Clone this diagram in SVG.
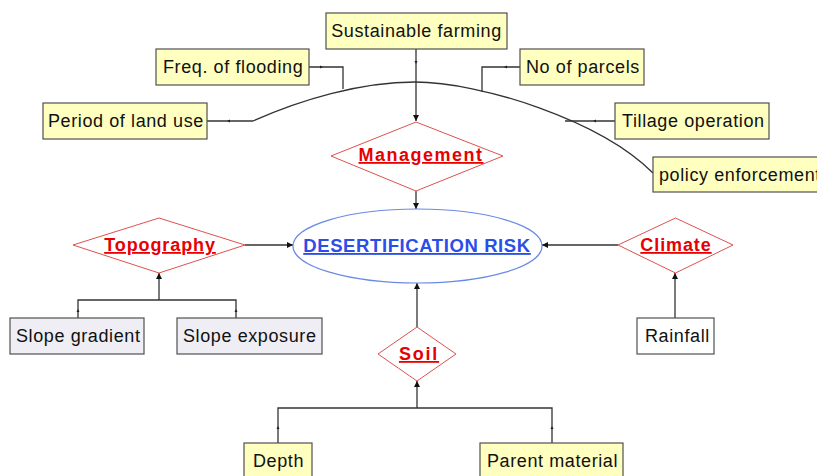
<svg xmlns="http://www.w3.org/2000/svg" width="817" height="476" viewBox="0 0 817 476">
  <style>
    .box { fill: #ffffc0; stroke: #505050; stroke-width: 1.2; }
    .gbox { fill: #eeeef4; stroke: #505050; stroke-width: 1.2; }
    .wbox { fill: #ffffff; stroke: #505050; stroke-width: 1.2; }
    .lbl { font-family: "Liberation Sans", Arial, sans-serif; font-size: 18px; letter-spacing: 0.6px; fill: #111; }
    .dia { fill: #ffffff; stroke: #e05050; stroke-width: 1; }
    .dlbl { font-family: "Liberation Sans", Arial, sans-serif; font-size: 18px; font-weight: bold; letter-spacing: 0.9px; fill: #e80000; text-decoration: underline; text-anchor: middle; }
    .ln { fill: none; stroke: #333; stroke-width: 1.3; }
    .arr { fill: none; stroke: #333; stroke-width: 1.3; marker-end: url(#ah); }
    .tick { fill: #222; }
  </style>
  <defs>
    <marker id="ah" viewBox="0 0 10 10" refX="10" refY="5" markerWidth="6" markerHeight="6" markerUnits="userSpaceOnUse" orient="auto">
      <path d="M0,0 L10,5 L0,10 Z" fill="#111"/>
    </marker>
  </defs>

  <!-- connectors -->
  <g id="connectors">
    <!-- management influences arc -->
    <path class="ln" d="M253,121 C300,100 360,82 415,82 C480,82 600,120 653,173"/>
    <path class="ln" d="M207,121 H253"/>
    <path class="ln" d="M309,67 H343 V89"/>
    <path class="ln" d="M520,67 H482 V92"/>
    <path class="ln" d="M615,121 H565"/>
    <path class="arr" d="M416,49 V121"/>
    <!-- small direction ticks -->
    <path class="tick" d="M227,121 l3,-1.5 v3 Z"/>
    <path class="tick" d="M323,67 l-3,-1.5 v3 Z"/>
    <path class="tick" d="M416,64 l-1.5,-3 h3 Z"/>
    <path class="tick" d="M504,67 l3,-1.5 v3 Z"/>
    <path class="tick" d="M593,121 l3,-1.5 v3 Z"/>
    <!-- into the central risk -->
    <path class="arr" d="M416,191 V209"/>
    <path class="arr" d="M245,245 H293"/>
    <path class="arr" d="M618,245 H542"/>
    <path class="arr" d="M417,327 V283"/>
    <!-- topography inputs -->
    <path class="ln" d="M78,318 V300 H236 V318"/>
    <path class="arr" d="M159,300 V273"/>
    <path class="tick" d="M78,309 l-1.5,3 h3 Z"/>
    <path class="tick" d="M236,309 l-1.5,3 h3 Z"/>
    <!-- climate input -->
    <path class="arr" d="M675,318 V273"/>
    <!-- soil inputs -->
    <path class="ln" d="M278,443 V408 H552 V443"/>
    <path class="arr" d="M417,408 V381"/>
    <path class="tick" d="M278,426 l-1.5,3 h3 Z"/>
    <path class="tick" d="M552,426 l-1.5,3 h3 Z"/>
  </g>

  <!-- management factors -->
  <g id="sustainable-farming">
    <rect class="box" x="326" y="13" width="181" height="36"/>
    <text class="lbl" x="416.5" y="37" text-anchor="middle">Sustainable farming</text>
  </g>
  <g id="freq-flooding">
    <rect class="box" x="156" y="49" width="153" height="36"/>
    <text class="lbl" x="163" y="73">Freq. of flooding</text>
  </g>
  <g id="no-parcels">
    <rect class="box" x="520" y="49" width="124" height="36"/>
    <text class="lbl" x="526" y="73">No of parcels</text>
  </g>
  <g id="period-land-use">
    <rect class="box" x="43" y="103" width="164" height="36"/>
    <text class="lbl" x="48" y="127">Period of land use</text>
  </g>
  <g id="tillage">
    <rect class="box" x="615" y="103" width="154" height="36"/>
    <text class="lbl" x="622" y="127">Tillage operation</text>
  </g>
  <g id="policy">
    <rect class="box" x="653" y="157" width="180" height="35"/>
    <text class="lbl" x="659" y="181">policy enforcement</text>
  </g>

  <!-- factor groups -->
  <g id="management">
    <polygon class="dia" points="416,122 503,156 416,191 331,156"/>
    <text class="dlbl" x="421" y="161" style="letter-spacing:1.5px">Management</text>
  </g>
  <g id="topography">
    <polygon class="dia" points="159,218 245,245 159,273 73,245"/>
    <text class="dlbl" x="160" y="251">Topography</text>
  </g>
  <g id="climate">
    <polygon class="dia" points="675.5,218 733,245 675.5,273 618,245"/>
    <text class="dlbl" x="676" y="251">Climate</text>
  </g>
  <g id="soil">
    <polygon class="dia" points="417,327 456,354 417,381 378,354"/>
    <text class="dlbl" x="419" y="360" style="letter-spacing:1.8px">Soil</text>
  </g>

  <!-- central outcome -->
  <g id="desertification-risk">
    <ellipse cx="417.5" cy="246" rx="124.5" ry="37" fill="#ffffff" stroke="#6a8ae6" stroke-width="1.2"/>
    <text x="417" y="252" text-anchor="middle" font-family="Liberation Sans, Arial, sans-serif" font-size="18.5" font-weight="bold" letter-spacing="0.6" fill="#2a4ee8" text-decoration="underline">DESERTIFICATION RISK</text>
  </g>

  <!-- topography inputs -->
  <g id="slope-gradient">
    <rect class="gbox" x="10" y="318" width="134" height="36"/>
    <text class="lbl" x="16" y="342">Slope gradient</text>
  </g>
  <g id="slope-exposure">
    <rect class="gbox" x="177" y="318" width="145" height="36"/>
    <text class="lbl" x="183" y="342">Slope exposure</text>
  </g>

  <!-- climate input -->
  <g id="rainfall">
    <rect class="wbox" x="637" y="318" width="77" height="36"/>
    <text class="lbl" x="645" y="342">Rainfall</text>
  </g>

  <!-- soil inputs -->
  <g id="depth">
    <rect class="box" x="244" y="443" width="68" height="40"/>
    <text class="lbl" x="253" y="467">Depth</text>
  </g>
  <g id="parent-material">
    <rect class="box" x="480" y="443" width="143" height="40"/>
    <text class="lbl" x="487" y="467">Parent material</text>
  </g>
</svg>
